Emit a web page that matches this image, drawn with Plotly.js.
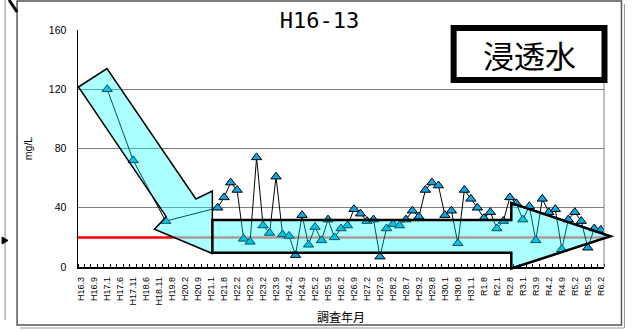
<!DOCTYPE html>
<html><head><meta charset="utf-8">
<script src="https://cdn.plot.ly/plotly-3.0.1.min.js"></script>
<style>html,body{margin:0;padding:0;background:#fff;}#chart{width:632px;height:330px;}</style>
</head><body><div id="chart"></div>
<script>
// Tick labels shown on every other category
const tickLabels = ["H16.3","H16.9","H17.1","H17.6","H17.11","H18.6","H18.11","H19.8","H20.2","H20.9","H21.1","H21.8","H22.2","H22.9","H23.2","H23.9","H24.2","H24.9","H25.2","H25.9","H26.2","H26.9","H27.2","H27.9","H28.2","H28.7","H29.2","H29.8","H30.1","H30.8","H31.1","R1.8","R2.1","R2.8","R3.1","R3.9","R4.2","R4.9","R5.2","R5.9","R6.2"];
// Measured concentration (mg/L) per survey category (null = no measurement)
const concentration = [null,null,null,null,120,null,null,null,72,null,null,null,null,31,null,null,null,null,null,null,null,
  40,47,57,52,19,17,74,28,23,61,
  22,21,8,35,15,27,18,32,20,26,
  28,39,36,31,32,7,26,29,28,32,
  38,34,52,57,55,35,38,16,52,46,
  40,33,37,26,31,47,43,32,41,18,
  46,37,39,12,32,37,31,13,26,25];
const standardValue = 20;
const yTicks = [0,40,80,120,160];

const catIndex = concentration.map((_, i) => i);
const tickPos = tickLabels.map((_, i) => i * 2);

// plot area geometry (pixels) for decorative overlays
const PL = 78, PT = 30, PW = 526.5, PH = 237;
const fx = x => (x - PL) / PW;
const fy = y => (PT + PH - y) / PH;
const path = pts => 'M' + pts.map(p => fx(p[0]).toFixed(5) + ',' + fy(p[1]).toFixed(5)).join(' L') + ' Z';

const diagArrow = [[78.5,87],[107,68.5],[196,199],[212.5,191],[212.5,253.5],[154.5,229.3],[166.3,216.7]];
const horizArrow = [[212.5,220],[511.7,220],[511.7,203],[611,236.3],[511.7,268.5],[511.7,252.7],[212.5,252.7]];
const arrowEntryX = 175.4; // where the standard line disappears under the arrow

const trace = {
  x: catIndex, y: concentration, type: 'scatter', mode: 'lines+markers', connectgaps: true,
  line: {color: '#000', width: 1},
  marker: {symbol: 'triangle-up', size: 9, color: '#0AA6E6', line: {color: '#000', width: 1}},
  hoverinfo: 'skip'
};

const shapes = [
  // frame of chart
  {type:'rect', xref:'paper', yref:'paper', x0:fx(17), x1:fx(622), y0:fy(1), y1:fy(325), line:{color:'#555', width:1.5}, layer:'below'},
  {type:'line', xref:'paper', yref:'paper', x0:fx(625), x1:fx(625), y0:fy(4), y1:fy(328), line:{color:'#999', width:1}},
  {type:'line', xref:'paper', yref:'paper', x0:fx(20), x1:fx(625), y0:fy(328), y1:fy(328), line:{color:'#999', width:1}},
  // cropped neighbouring drawing artifacts
  {type:'line', xref:'paper', yref:'paper', x0:fx(5), x1:fx(5), y0:fy(0), y1:fy(320), line:{color:'#888', width:1}},
  {type:'line', xref:'paper', yref:'paper', x0:fx(9), x1:fx(17), y0:fy(0), y1:fy(12), line:{color:'#000', width:3}},
  {type:'path', xref:'paper', yref:'paper', path: path([[2,237],[8,240.5],[2,244]]), fillcolor:'#000', line:{color:'#000', width:1}},
  // plot border right
  {type:'line', xref:'paper', yref:'paper', x0:1, x1:1, y0:0, y1:1, line:{color:'#808080', width:1}},
  // standard line (visible part red, part under the arrows lighter)
  {type:'line', xref:'paper', x0:0, x1:fx(arrowEntryX), yref:'y', y0:standardValue, y1:standardValue, line:{color:'#FF0000', width:2.5}, layer:'between'},
  {type:'line', xref:'paper', x0:fx(arrowEntryX), x1:1, yref:'y', y0:standardValue, y1:standardValue, line:{color:'rgb(255,105,105)', width:2.5}, layer:'between'},
  // arrows
  {type:'path', xref:'paper', yref:'paper', path: path(diagArrow), fillcolor:'rgba(0,255,255,0.33)', line:{color:'#000', width:1.5}, layer:'above'},
  {type:'path', xref:'paper', yref:'paper', path: path(horizArrow), fillcolor:'rgba(0,255,255,0.33)', line:{color:'#000', width:2.5}, layer:'above'},
  // label box
  {type:'rect', xref:'paper', yref:'paper', x0:fx(454), x1:fx(605), y0:fy(28), y1:fy(80), fillcolor:'#fff', line:{color:'#000', width:6}, layer:'above'}
];

const layout = {
  width: 632, height: 330,
  margin: {l: PL, r: 632 - PL - PW, t: PT, b: 330 - PT - PH, pad: 0},
  paper_bgcolor: '#fff', plot_bgcolor: '#fff',
  showlegend: false,
  font: {family: 'Liberation Sans, Arial, sans-serif', color: '#000'},
  title: {text: 'H16-13', font: {family: 'DejaVu Sans Mono', size: 22, color: '#000'},
          x: 319.5/632, xref: 'container', xanchor: 'center', y: 1 - 20.5/330, yref: 'container', yanchor: 'middle'},
  xaxis: {
    range: [-0.5, 80.5], tickmode: 'array', tickvals: tickPos, ticktext: tickLabels, tickangle: -90,
    ticks: '', showgrid: false, zeroline: false, showline: true, linecolor: '#000', linewidth: 1.5,
    tickfont: {family: 'Liberation Sans', size: 9, color: '#000'}, ticklabelstandoff: 5,
    minor: {tick0: -0.5, dtick: 1, ticks: 'inside', ticklen: 3, tickcolor: '#000', tickwidth: 1, showgrid: false},
    title: {text: '調査年月', font: {family: 'Noto Sans CJK JP', size: 12, color: '#000'}, standoff: 9}
  },
  yaxis: {
    range: [0, 160], tickmode: 'array', tickvals: yTicks, ticks: '', showgrid: true, gridcolor: '#808080', gridwidth: 1,
    zeroline: false, showline: true, linecolor: '#000', linewidth: 1.5,
    tickfont: {family: 'Liberation Sans', size: 10.5, color: '#000'}, ticklabelstandoff: 8,
    title: {text: 'mg/L', font: {family: 'Liberation Sans', size: 10.5, color: '#000'}, standoff: 14}
  },
  shapes: shapes,
  annotations: [
    {text: '浸透水', xref: 'paper', yref: 'paper', x: fx(529.5), y: fy(54), xanchor: 'center', yanchor: 'middle',
     showarrow: false, font: {family: 'Noto Sans CJK JP', size: 31, color: '#000'}}
  ]
};

Plotly.newPlot('chart', [trace], layout, {staticPlot: true, displayModeBar: false});
</script></body></html>
